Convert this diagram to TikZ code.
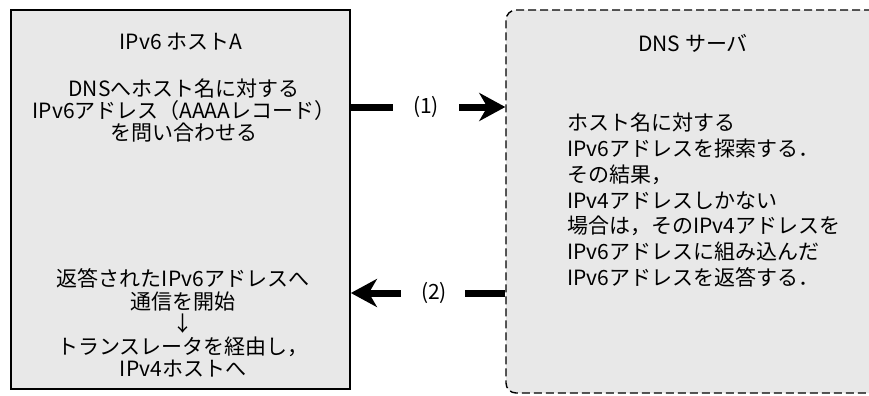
\documentclass[tikz,border=0pt]{standalone}
\usepackage{fontspec}
\setmainfont{Noto Sans CJK JP}
\usetikzlibrary{arrows.meta}
\begin{document}
\begin{tikzpicture}[x=0.5pt,y=-0.5pt,
  hostbox/.style={draw=black, line width=0.9pt, fill=black!9, inner sep=0pt},
  dnsbox/.style={draw=black, line width=0.7pt, dash pattern=on 4pt off 2pt, fill=black!9, rounded corners=5pt, inner sep=0pt},
  txt/.style={inner sep=0pt, font=\fontsize{10.5}{13}\selectfont},
  blockA/.style={txt, align=center, font=\fontsize{10.5}{11}\selectfont},
  blockB/.style={txt, align=center, font=\fontsize{10.5}{11.25}\selectfont},
  blockC/.style={txt, align=left, font=\fontsize{10.5}{12.85}\selectfont},
  bar/.style={line width=3.5pt},
  tip/.style={-{Stealth[length=13pt, width=14pt, inset=4pt]}}
]
\useasboundingbox (0,0) rectangle (869,396);
\fill[white] (0,0) rectangle (869,396);
% boxes
\node (hostA) [hostbox, minimum width=169.5pt, minimum height=189.5pt] at (180.5,199.5) {};
\begin{scope}
\clip (0,0) rectangle (869,396);
\node (dns) [dnsbox, minimum width=200pt, minimum height=191.5pt] at (706,201.5) {};
\end{scope}
% texts in host A
\node (tA) [txt] at (181,42) {IPv6 ホストA};
\node (qA) [blockA] at (184,110.5) {DNSへホスト名に対する\\IPv6アドレス（AAAAレコード）\\を問い合わせる};
\node (rA) [blockB] at (183,323) {返答されたIPv6アドレスへ\\通信を開始\\↓\\トランスレータを経由し，\\IPv4ホストへ};
% texts in DNS server
\node (tD) [txt] at (693,43) {DNS サーバ};
\node (sD) [blockC, anchor=west] at (567,200) {ホスト名に対する\\IPv6アドレスを探索する．\\その結果，\\IPv4アドレスしかない\\場合は，そのIPv4アドレスを\\IPv6アドレスに組み込んだ\\IPv6アドレスを返答する．};
% connector labels
\node (l1) [txt] at (426,107) {(1)};
\node (l2) [txt] at (434,293) {(2)};
% connectors
\draw[bar] (hostA.east |- l1.center) -- ([xshift=-10pt]l1.west);
\draw[bar, tip] ([xshift=10pt]l1.east) -- (dns.west |- l1.center);
\draw[bar] (dns.west |- l2.center) -- ([xshift=9pt]l2.east);
\draw[bar, tip] ([xshift=-10pt]l2.west) -- (hostA.east |- l2.center);
\end{tikzpicture}
\end{document}
